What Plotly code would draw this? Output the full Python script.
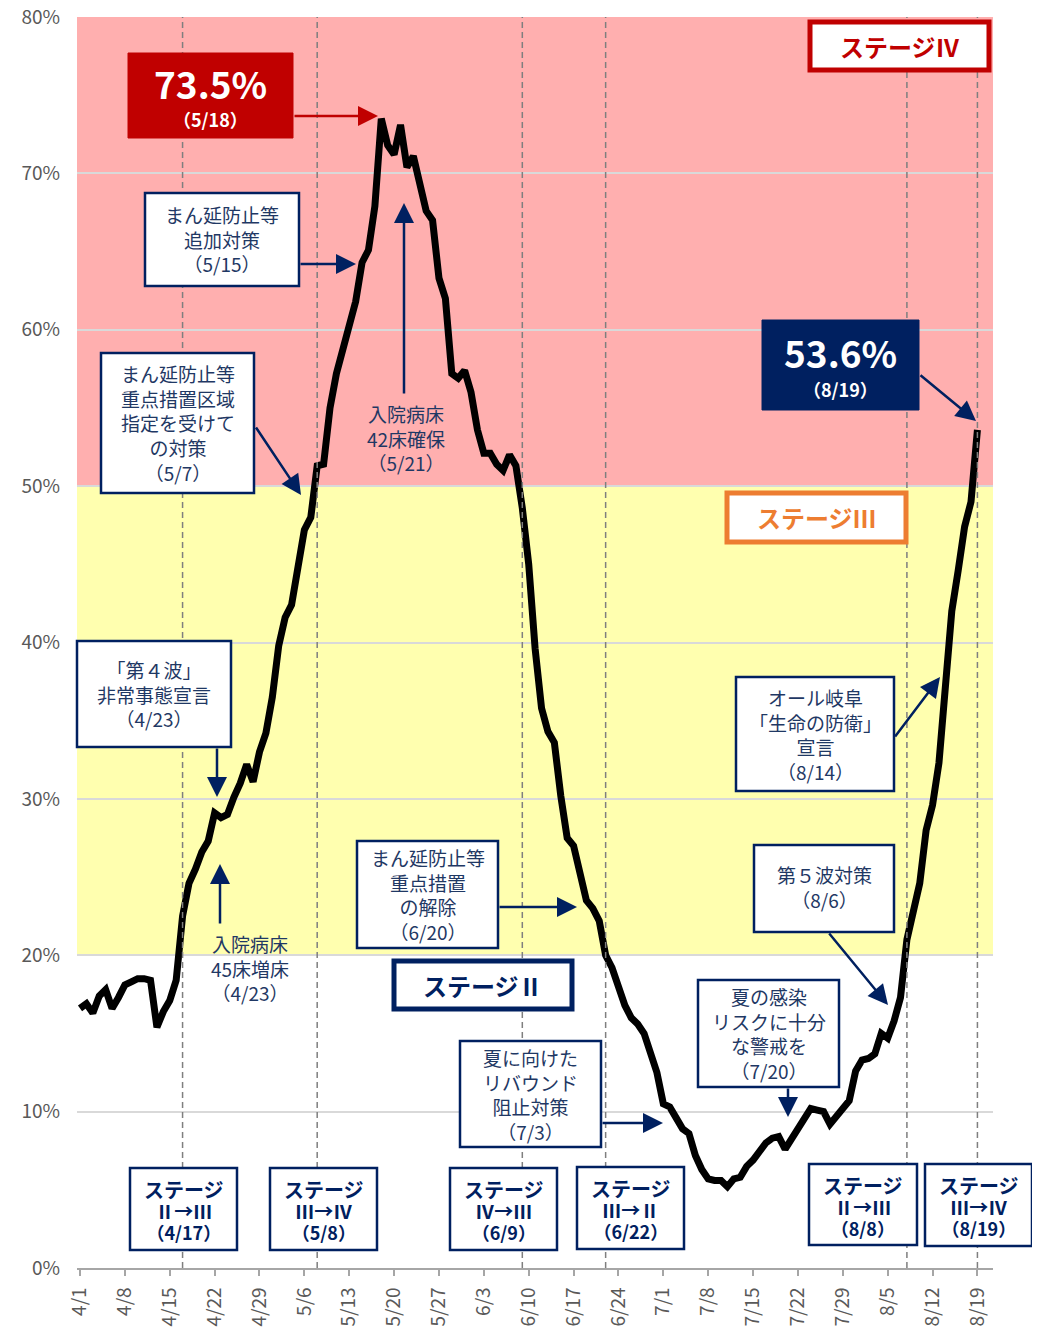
import pandas as pd
import plotly.graph_objects as go

# ---------------- data ----------------
start_date = "2021-04-01"
occupancy = [
    16.6, 16.9, 16.3, 17.4, 17.8, 16.6, 17.3, 18.1, 18.3, 18.5,
    18.5, 18.4, 15.4, 16.4, 17.1, 18.4, 22.5, 24.6, 25.5, 26.6,
    27.3, 29.1, 28.8, 29.0, 30.1, 31.0, 32.2, 31.1, 33.0, 34.2,
    36.5, 39.8, 41.6, 42.4, 44.8, 47.2, 48.0, 51.3, 51.4, 55.0,
    57.2, 58.8, 60.0, 61.8, 64.3, 65.1, 67.9, 73.5, 71.8, 71.2,
    73.1, 70.4, 71.1, 69.3, 67.6, 67.0, 63.3, 62.0, 57.2, 56.9,
    57.4, 56.0, 53.6, 52.1, 52.1, 51.4, 51.0, 52.0, 51.3, 48.6,
    45.0, 39.6, 35.8, 34.3, 33.6, 30.2, 27.5, 27.0, 25.0, 23.5,
    23.0, 22.2, 20.0, 19.2, 18.0, 16.8, 16.0, 15.6, 15.0, 13.7,
    12.5, 10.5, 10.3, 9.6, 8.9, 8.6, 7.2, 6.3, 5.7, 5.6,
    5.6, 5.2, 5.7, 5.8, 6.5, 6.9, 7.5, 8.0, 8.3, 8.4,
    7.6, 8.3, 8.9, 9.5, 10.2, 10.1, 10.0, 9.2, 9.7, 10.2,
    10.7, 12.6, 13.3, 13.4, 13.7, 15.0, 14.7, 15.8, 17.3, 21.0,
    22.6, 24.6, 28.0, 29.6, 32.3, 37.0, 42.0, 44.6, 47.4, 49.0,
    53.6,
]
x_tick_labels = ["4/1", "4/8", "4/15", "4/22", "4/29", "5/6", "5/13", "5/20",
                 "5/27", "6/3", "6/10", "6/17", "6/24", "7/1", "7/8", "7/15",
                 "7/22", "7/29", "8/5", "8/12", "8/19"]
y_tick_values = [0, 10, 20, 30, 40, 50, 60, 70, 80]
y_tick_labels = ["0%", "10%", "20%", "30%", "40%", "50%", "60%", "70%", "80%"]
stage_change_dates = ["2021-04-17", "2021-05-08", "2021-06-09",
                      "2021-06-22", "2021-08-08", "2021-08-19"]
stage3_range = [20, 50]
stage4_range = [50, 80]

dates = pd.date_range(start_date, periods=len(occupancy), freq="D")
tick_dates = pd.date_range(start_date, periods=len(x_tick_labels), freq="7D")

# ---------------- layout constants ----------------
OFF = 8                      # page body margin
W, H = 1032, 1325
L, T = 69, 9
PW, PH = 916, 1251
R, B = W - L - PW, H - T - PH
t0 = pd.Timestamp(start_date)
x_range = [str(t0 - pd.Timedelta(days=0.47)), str(t0 + pd.Timedelta(days=142.43))]

FONT = "Noto Sans CJK JP, Noto Sans, sans-serif"
NAVY = "#002060"
TEXT = "#1F3864"
RED = "#C00000"
ORANGE = "#ED7D31"
PINK = "#FFAFAF"
YELLOW = "#FFFFAF"
GRAY = "#595959"


def px(x):
    return (x - OFF - L) / PW


def py(y):
    return (T + PH - (y - OFF)) / PH


shapes = []
annotations = []

# background bands
shapes.append(dict(type="rect", xref="paper", yref="y", x0=0, x1=1,
                   y0=stage3_range[0], y1=stage3_range[1], fillcolor=YELLOW,
                   line=dict(width=0), layer="below"))
shapes.append(dict(type="rect", xref="paper", yref="y", x0=0, x1=1,
                   y0=stage4_range[0], y1=stage4_range[1], fillcolor=PINK,
                   line=dict(width=0), layer="below"))

# dashed stage change lines
for d in stage_change_dates:
    shapes.append(dict(type="line", xref="x", yref="y", x0=d, x1=d, y0=0, y1=80,
                       line=dict(color="#7F7F7F", width=1.5, dash="6px,4px"),
                       layer="above"))


def box(x0, y0, x1, y1, fill="white", color=NAVY, width=2.5):
    shapes.append(dict(type="rect", xref="paper", yref="paper",
                       x0=px(x0), x1=px(x1), y0=py(y1), y1=py(y0),
                       fillcolor=fill, line=dict(color=color, width=width),
                       layer="above"))


def text(cx, cy, s, size=19, color=TEXT, family=FONT):
    annotations.append(dict(xref="paper", yref="paper", x=px(cx), y=py(cy),
                            text=s, showarrow=False, align="center",
                            xanchor="center", yanchor="middle",
                            font=dict(family=family, size=size, color=color)))


def arrow(tx, ty, hx, hy, color=NAVY, width=2.5):
    annotations.append(dict(xref="paper", yref="paper", x=px(hx), y=py(hy),
                            ax=tx - hx, ay=ty - hy, axref="pixel", ayref="pixel",
                            text="", showarrow=True, arrowhead=2, arrowsize=1.6,
                            arrowwidth=width, arrowcolor=color,
                            standoff=0, startstandoff=0))


# peak label
box(128, 53, 293, 138, fill=RED, color=RED, width=1)
text(210, 83, "<b>73.5%</b>", size=37, color="white")
text(210, 119, "<b>（5/18）</b>", size=18, color="white")
arrow(293, 116, 378, 116, color=RED, width=2.5)

# latest label
box(762, 320, 919, 410, fill=NAVY, color=NAVY, width=1)
text(840, 352, "<b>53.6%</b>", size=37, color="white")
text(840, 389, "<b>（8/19）</b>", size=18, color="white")
arrow(919, 374, 976, 421)

# stage labels
box(810, 22, 989, 70, color=RED, width=5)
text(899.5, 46, "<b>ステージⅣ</b>", size=24, color=RED)
box(727, 493, 906, 542, color=ORANGE, width=5)
text(816.5, 518, "<b>ステージⅢ</b>", size=24, color=ORANGE)
box(394, 961, 572, 1009, color=NAVY, width=5)
text(483, 985, "<b>ステージⅡ</b>", size=24, color=NAVY)

# measure boxes
box(145, 193, 299, 286)
text(222, 239, "まん延防止等<br>追加対策<br>（5/15）")
arrow(299, 264, 356, 264)

box(101, 353, 254, 493)
text(177.5, 423, "まん延防止等<br>重点措置区域<br>指定を受けて<br>の対策<br>（5/7）")
arrow(255, 426, 301, 495)

box(77, 641, 231, 747)
text(154, 694, "「第４波」<br>非常事態宣言<br>（4/23）")
arrow(217, 747, 217, 797)

text(250, 968, "入院病床<br>45床増床<br>（4/23）")
arrow(220, 925, 220, 864)

text(406, 438, "入院病床<br>42床確保<br>（5/21）")
arrow(404, 395, 404, 203)

box(357, 841, 498, 948)
text(427.5, 894.5, "まん延防止等<br>重点措置<br>の解除<br>（6/20）")
arrow(498, 907, 577, 907)

box(460, 1041, 601, 1147)
text(530.5, 1094, "夏に向けた<br>リバウンド<br>阻止対策<br>（7/3）")
arrow(601, 1123, 663, 1123)

box(698, 980, 839, 1087)
text(768.5, 1033.5, "夏の感染<br>リスクに十分<br>な警戒を<br>（7/20）")
arrow(788, 1087, 788, 1117)

box(754, 845, 894, 932)
text(824, 887, "第５波対策<br>（8/6）")
arrow(828, 932, 888, 1005)

box(736, 677, 894, 791)
text(815, 734, "オール岐阜<br>「生命の防衛」<br>宣言<br>（8/14）")
arrow(894, 738, 940, 677)

# bottom stage-change boxes
stage_boxes = [
    (130, 1168, 237, 1250, "Ⅱ→Ⅲ", "（4/17）"),
    (270, 1168, 377, 1250, "Ⅲ→Ⅳ", "（5/8）"),
    (450, 1168, 557, 1250, "Ⅳ→Ⅲ", "（6/9）"),
    (577, 1167, 684, 1249, "Ⅲ→Ⅱ", "（6/22）"),
    (809, 1164, 917, 1245, "Ⅱ→Ⅲ", "（8/8）"),
    (925, 1164, 1032, 1246, "Ⅲ→Ⅳ", "（8/19）"),
]
for x0, y0, x1, y1, chg, dt in stage_boxes:
    box(x0, y0, x1, y1)
    cx, cy = (x0 + x1) / 2, (y0 + y1) / 2
    s = ("<b><span style='font-size:20px'>ステージ</span><br>"
         "<span style='font-size:19px'>" + chg + "</span><br>"
         "<span style='font-size:18px'>" + dt + "</span></b>")
    text(cx, cy + 1, s, size=16, color=NAVY)

fig = go.Figure()
fig.add_trace(go.Scatter(x=dates, y=occupancy, mode="lines",
                         line=dict(color="black", width=7),
                         hoverinfo="skip", showlegend=False))

fig.update_layout(
    width=W, height=H,
    margin=dict(l=L, r=R, t=T, b=B, pad=0, autoexpand=False),
    paper_bgcolor="white", plot_bgcolor="white",
    showlegend=False,
    shapes=shapes, annotations=annotations,
    font=dict(family=FONT, color=GRAY),
    xaxis=dict(type="date", range=x_range, tickvals=tick_dates, ticktext=x_tick_labels,
               tickangle=-90, tickfont=dict(family=FONT, size=19, color=GRAY),
               showgrid=False, zeroline=False, showline=True, linecolor="#A6A6A6",
               linewidth=1.5, ticks="outside", ticklen=6, tickcolor="#A6A6A6",
               tickwidth=1.5, ticklabelstandoff=4, automargin=False,
               ticklabeloverflow="allow"),
    yaxis=dict(range=[0, 80], tickvals=y_tick_values, ticktext=y_tick_labels,
               tickfont=dict(family=FONT, size=19, color=GRAY),
               showgrid=True, gridcolor="#D9D9D9", gridwidth=1.5,
               zeroline=False, showline=False, ticks="", ticklabelstandoff=16,
               automargin=False, ticklabeloverflow="allow"),
)

fig.write_html("out.html")
